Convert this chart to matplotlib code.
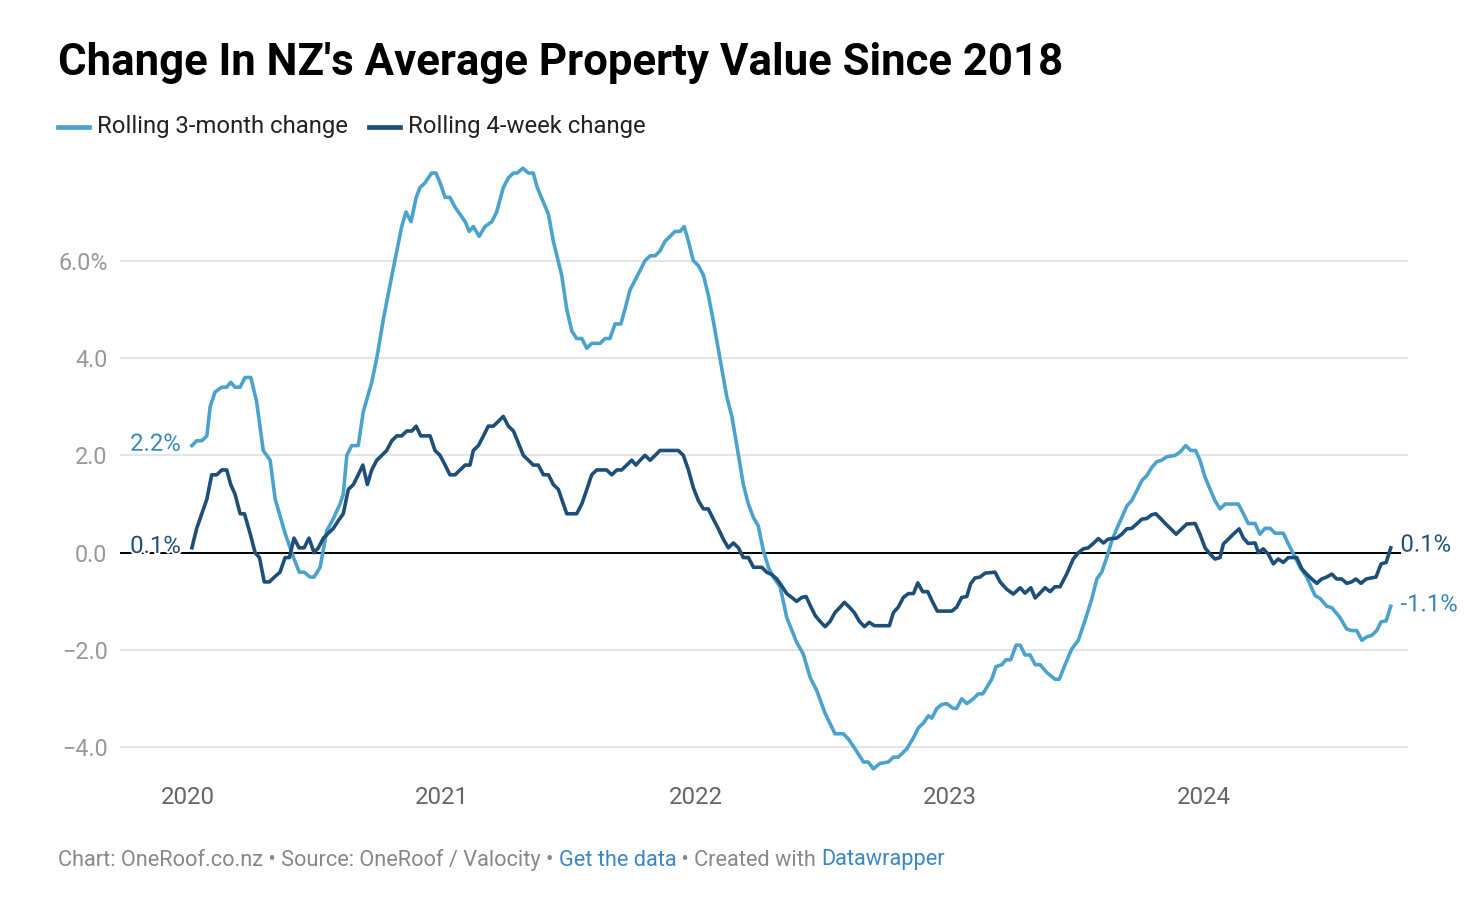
import matplotlib
matplotlib.use("Agg")
import matplotlib.pyplot as plt
import matplotlib.patheffects as pe
from matplotlib.lines import Line2D

# ---- data (x = years since start of 2020, y = % change) ----
t_3m = [
    0.015, 0.034, 0.054, 0.074, 0.087, 0.106, 0.133, 0.152, 0.168, 0.185,
    0.205, 0.224, 0.247, 0.270, 0.296, 0.323, 0.343, 0.382, 0.415, 0.438,
    0.457, 0.480, 0.496, 0.520, 0.546, 0.572, 0.598, 0.611, 0.625, 0.644,
    0.670, 0.690, 0.723, 0.743, 0.769, 0.795, 0.822, 0.841, 0.858, 0.878,
    0.898, 0.913, 0.933, 0.959, 0.976, 0.992, 1.012, 1.031, 1.051, 1.071,
    1.091, 1.107, 1.123, 1.146, 1.169, 1.196, 1.215, 1.228, 1.241, 1.261,
    1.281, 1.296, 1.318, 1.340, 1.359, 1.375, 1.399, 1.419, 1.438, 1.471,
    1.491, 1.511, 1.530, 1.550, 1.570, 1.589, 1.622, 1.642, 1.661, 1.681,
    1.704, 1.720, 1.740, 1.760, 1.780, 1.799, 1.819, 1.839, 1.858, 1.878,
    1.898, 1.917, 1.937, 1.953, 1.970, 1.989, 2.009, 2.029, 2.048, 2.068,
    2.094, 2.121, 2.141, 2.167, 2.186, 2.206, 2.226, 2.245, 2.265, 2.285,
    2.304, 2.331, 2.357, 2.396, 2.422, 2.449, 2.475, 2.508, 2.547, 2.580,
    2.600, 2.626, 2.659, 2.678, 2.698, 2.724, 2.757, 2.777, 2.796, 2.830,
    2.856, 2.875, 2.895, 2.915, 2.928, 2.948, 2.967, 2.987, 3.013, 3.026,
    3.046, 3.066, 3.092, 3.111, 3.129, 3.144, 3.164, 3.181, 3.204, 3.220,
    3.239, 3.260, 3.276, 3.295, 3.315, 3.335, 3.354, 3.381, 3.413, 3.430,
    3.453, 3.479, 3.505, 3.531, 3.558, 3.578, 3.597, 3.617, 3.637, 3.656,
    3.676, 3.696, 3.715, 3.735, 3.755, 3.774, 3.794, 3.814, 3.833, 3.853,
    3.886, 3.906, 3.928, 3.948, 3.967, 3.984, 4.004, 4.024, 4.043, 4.063,
    4.083, 4.135, 4.155, 4.174, 4.201, 4.220, 4.240, 4.260, 4.280, 4.312,
    4.332, 4.352, 4.378, 4.404, 4.437, 4.457, 4.483, 4.503, 4.535, 4.562,
    4.581, 4.601, 4.621, 4.640, 4.660, 4.680, 4.697, 4.717, 4.735,
]
rolling_3m = [
    2.2, 2.3, 2.3, 2.4, 3.0, 3.3, 3.4, 3.4, 3.5, 3.4,
    3.4, 3.6, 3.6, 3.1, 2.1, 1.9, 1.1, 0.4, -0.1, -0.4,
    -0.4, -0.5, -0.5, -0.3, 0.45, 0.7, 1.0, 1.2, 2.0, 2.2,
    2.2, 2.9, 3.5, 4.0, 4.8, 5.5, 6.2, 6.7, 7.0, 6.8,
    7.3, 7.5, 7.6, 7.8, 7.8, 7.6, 7.3, 7.3, 7.1, 6.95,
    6.8, 6.6, 6.7, 6.5, 6.7, 6.8, 7.0, 7.25, 7.5, 7.7,
    7.8, 7.8, 7.9, 7.8, 7.8, 7.5, 7.2, 6.95, 6.4, 5.7,
    5.0, 4.55, 4.4, 4.4, 4.2, 4.3, 4.3, 4.4, 4.4, 4.7,
    4.7, 5.0, 5.4, 5.6, 5.8, 6.0, 6.1, 6.1, 6.2, 6.4,
    6.5, 6.6, 6.6, 6.7, 6.4, 6.0, 5.9, 5.7, 5.3, 4.76,
    4.0, 3.2, 2.8, 2.0, 1.4, 1.0, 0.72, 0.55, 0.04, -0.3,
    -0.5, -0.7, -1.33, -1.84, -2.08, -2.56, -2.83, -3.3, -3.72, -3.72,
    -3.83, -4.03, -4.3, -4.3, -4.44, -4.33, -4.3, -4.2, -4.2, -4.03,
    -3.8, -3.6, -3.5, -3.35, -3.4, -3.2, -3.12, -3.1, -3.2, -3.2,
    -3.0, -3.1, -3.0, -2.9, -2.9, -2.77, -2.6, -2.34, -2.3, -2.2,
    -2.2, -1.9, -1.9, -2.1, -2.1, -2.3, -2.3, -2.46, -2.6, -2.6,
    -2.3, -1.98, -1.8, -1.4, -0.95, -0.54, -0.4, -0.1, 0.25, 0.49,
    0.72, 0.96, 1.07, 1.27, 1.48, 1.58, 1.75, 1.87, 1.9, 1.97,
    2.0, 2.07, 2.2, 2.1, 2.1, 1.9, 1.55, 1.3, 1.07, 0.9,
    1.0, 1.0, 0.8, 0.6, 0.6, 0.38, 0.5, 0.5, 0.4, 0.4,
    0.18, -0.03, -0.3, -0.5, -0.88, -0.94, -1.1, -1.13, -1.33, -1.57,
    -1.6, -1.6, -1.8, -1.73, -1.7, -1.6, -1.42, -1.4, -1.1,
]

t_4w = [
    0.015, 0.034, 0.054, 0.074, 0.093, 0.113, 0.133, 0.152, 0.168, 0.185,
    0.205, 0.222, 0.244, 0.264, 0.281, 0.300, 0.320, 0.340, 0.362, 0.382,
    0.399, 0.417, 0.437, 0.457, 0.476, 0.496, 0.513, 0.533, 0.552, 0.572,
    0.592, 0.611, 0.631, 0.651, 0.670, 0.688, 0.706, 0.723, 0.743, 0.763,
    0.782, 0.802, 0.822, 0.841, 0.861, 0.881, 0.898, 0.916, 0.953, 0.972,
    0.992, 1.012, 1.031, 1.051, 1.071, 1.091, 1.110, 1.123, 1.143, 1.163,
    1.182, 1.202, 1.222, 1.241, 1.261, 1.281, 1.300, 1.320, 1.340, 1.359,
    1.379, 1.399, 1.419, 1.438, 1.458, 1.471, 1.491, 1.530, 1.550, 1.570,
    1.589, 1.609, 1.648, 1.668, 1.688, 1.707, 1.727, 1.747, 1.763, 1.780,
    1.799, 1.819, 1.839, 1.858, 1.930, 1.950, 1.970, 1.989, 2.009, 2.029,
    2.048, 2.068, 2.088, 2.107, 2.127, 2.147, 2.167, 2.186, 2.206, 2.226,
    2.259, 2.278, 2.298, 2.318, 2.337, 2.357, 2.377, 2.396, 2.416, 2.433,
    2.453, 2.469, 2.488, 2.508, 2.528, 2.547, 2.567, 2.584, 2.604, 2.623,
    2.643, 2.663, 2.682, 2.702, 2.761, 2.777, 2.796, 2.816, 2.836, 2.856,
    2.873, 2.892, 2.912, 2.932, 2.950, 3.007, 3.026, 3.046, 3.066, 3.081,
    3.098, 3.118, 3.138, 3.177, 3.197, 3.223, 3.249, 3.276, 3.295, 3.318,
    3.335, 3.354, 3.374, 3.394, 3.413, 3.433, 3.459, 3.485, 3.505, 3.525,
    3.544, 3.564, 3.584, 3.604, 3.623, 3.656, 3.676, 3.696, 3.715, 3.735,
    3.755, 3.774, 3.794, 3.810, 3.833, 3.853, 3.873, 3.890, 3.912, 3.932,
    3.965, 3.984, 4.004, 4.024, 4.043, 4.063, 4.076, 4.096, 4.115, 4.138,
    4.155, 4.174, 4.201, 4.214, 4.233, 4.253, 4.273, 4.292, 4.312, 4.332,
    4.365, 4.385, 4.404, 4.424, 4.444, 4.463, 4.483, 4.503, 4.522, 4.542,
    4.562, 4.581, 4.598, 4.618, 4.638, 4.677, 4.697, 4.717, 4.735,
]
rolling_4w = [
    0.1, 0.5, 0.8, 1.1, 1.6, 1.6, 1.7, 1.7, 1.4, 1.2,
    0.8, 0.8, 0.4, 0.0, -0.1, -0.6, -0.6, -0.5, -0.4, -0.1,
    -0.1, 0.3, 0.1, 0.1, 0.3, 0.0, 0.1, 0.3, 0.4, 0.5,
    0.66, 0.8, 1.3, 1.4, 1.6, 1.8, 1.4, 1.7, 1.9, 2.0,
    2.1, 2.3, 2.4, 2.4, 2.5, 2.5, 2.6, 2.4, 2.4, 2.1,
    2.0, 1.8, 1.6, 1.6, 1.7, 1.8, 1.8, 2.1, 2.2, 2.4,
    2.6, 2.6, 2.7, 2.8, 2.6, 2.5, 2.26, 2.0, 1.9, 1.8,
    1.8, 1.6, 1.6, 1.4, 1.3, 1.1, 0.8, 0.8, 1.0, 1.3,
    1.6, 1.7, 1.7, 1.6, 1.7, 1.7, 1.8, 1.9, 1.8, 1.9,
    2.0, 1.9, 2.0, 2.1, 2.1, 2.0, 1.7, 1.34, 1.07, 0.9,
    0.9, 0.69, 0.49, 0.28, 0.1, 0.2, 0.1, -0.1, -0.1, -0.3,
    -0.3, -0.4, -0.45, -0.54, -0.68, -0.84, -0.92, -1.0, -0.92, -0.9,
    -1.12, -1.29, -1.41, -1.52, -1.41, -1.23, -1.12, -1.02, -1.12, -1.23,
    -1.41, -1.52, -1.43, -1.5, -1.5, -1.23, -1.12, -0.92, -0.84, -0.84,
    -0.62, -0.8, -0.8, -1.02, -1.2, -1.2, -1.12, -0.92, -0.9, -0.64,
    -0.52, -0.5, -0.42, -0.4, -0.6, -0.75, -0.85, -0.72, -0.83, -0.72,
    -0.93, -0.83, -0.72, -0.8, -0.7, -0.7, -0.44, -0.13, 0.0, 0.08,
    0.1, 0.19, 0.29, 0.2, 0.28, 0.3, 0.38, 0.49, 0.5, 0.59,
    0.69, 0.7, 0.78, 0.8, 0.68, 0.57, 0.47, 0.38, 0.49, 0.59,
    0.6, 0.38, 0.1, -0.03, -0.13, -0.1, 0.18, 0.28, 0.38, 0.49,
    0.3, 0.19, 0.2, 0.0, 0.08, -0.03, -0.23, -0.13, -0.2, -0.1,
    -0.1, -0.33, -0.44, -0.54, -0.63, -0.54, -0.5, -0.44, -0.54, -0.54,
    -0.63, -0.6, -0.54, -0.63, -0.54, -0.5, -0.23, -0.2, 0.1,
]

years = [2020, 2021, 2022, 2023, 2024]
ytick_vals = [-4, -2, 0, 2, 4, 6]
ytick_labels = ["\u22124.0", "\u22122.0", "0.0", "2.0", "4.0", "6.0%"]

label_3m = "Rolling 3-month change"
label_4w = "Rolling 4-week change"
start_3m, end_3m = "2.2%", "-1.1%"
start_4w, end_4w = "0.1%", "0.1%"

LIGHT = "#4ba3cd"
DARK = "#1e4f78"
LIGHT_TXT = "#3587b7"

plt.rcParams["font.family"] = ["Roboto", "DejaVu Sans"]

W, H = 1472, 910
fig = plt.figure(figsize=(W / 100, H / 100), dpi=100)
fig.patch.set_facecolor("white")

# plot area in pixels: left 120, right 1408, top 163, bottom 777
ax = fig.add_axes([120 / W, (H - 776.6) / H, 1288 / W, (776.6 - 163.3) / H])
ax.set_xlim(2019.732, 2024.803)
ax.set_ylim(-4.6, 8.0)

x3 = [2020 + t for t in t_3m]
x4 = [2020 + t for t in t_4w]

for s in ax.spines.values():
    s.set_visible(False)

ax.set_yticks(ytick_vals)
ax.set_yticklabels(ytick_labels)
ax.tick_params(axis="y", length=0, pad=9, labelsize=16.8, labelcolor="#999999")
ax.set_xticks(years)
ax.set_xticklabels([str(y) for y in years])
ax.tick_params(axis="x", length=0, pad=7, labelsize=17.3, labelcolor="#666666")
ax.grid(axis="y", color="#e3e3e3", lw=1.3, zorder=0)
ax.axhline(0, xmin=0, xmax=(1400 - 120) / 1288, color="black", lw=1.4, zorder=2)

ax.plot(x3, rolling_3m, color=LIGHT, lw=2.6, solid_joinstyle="round", zorder=3)
ax.plot(x4, rolling_4w, color=DARK, lw=2.6, solid_joinstyle="round", zorder=4)

halo = [pe.withStroke(linewidth=3, foreground="white")]
fs_end = 17.2
ax.annotate(start_3m, (x3[0], rolling_3m[0]), xytext=(-8, 1), textcoords="offset points",
            ha="right", va="center", fontsize=fs_end, color=LIGHT_TXT, path_effects=halo, zorder=5)
ax.annotate(start_4w, (x4[0], rolling_4w[0]), xytext=(-8, 1), textcoords="offset points",
            ha="right", va="center", fontsize=fs_end, color=DARK, path_effects=halo, zorder=5)
ax.annotate(end_4w, (x4[-1], rolling_4w[-1]), xytext=(7, 2), textcoords="offset points",
            ha="left", va="center", fontsize=fs_end, color=DARK, path_effects=halo, zorder=5)
ax.annotate(end_3m, (x3[-1], rolling_3m[-1]), xytext=(7, 1), textcoords="offset points",
            ha="left", va="center", fontsize=fs_end, color=LIGHT_TXT, path_effects=halo, zorder=5)

# title
fig.text(58 / W, 1 - 63 / H, "Change In NZ's Average Property Value Since 2018",
         fontsize=31.5, fontweight="bold", color="black", ha="left", va="center")

# legend
leg_y = 1 - 127 / H
for x0, col, lab in [(58, LIGHT, label_3m), (369, DARK, label_4w)]:
    fig.add_artist(Line2D([x0 / W, (x0 + 31) / W], [leg_y, leg_y], color=col, lw=3.4,
                          transform=fig.transFigure))
    fig.text((x0 + 39) / W, leg_y, lab, fontsize=17.2, color="#222222",
             ha="left", va="center")

# footer with coloured link words
parts = [
    ("Chart: OneRoof.co.nz \u2022 Source: OneRoof / Valocity \u2022 ", "#888888"),
    ("Get the data", "#3b86c6"),
    (" \u2022 Created with ", "#888888"),
    ("Datawrapper", "#3b86c6"),
]
renderer = fig.canvas.get_renderer()
xpos = 58
for txt, col in parts:
    t = fig.text(xpos / W, 1 - 860 / H, txt, fontsize=15.7, color=col, ha="left", va="center")
    xpos = t.get_window_extent(renderer).x1

fig.savefig("out.png", dpi=100, facecolor="white")
